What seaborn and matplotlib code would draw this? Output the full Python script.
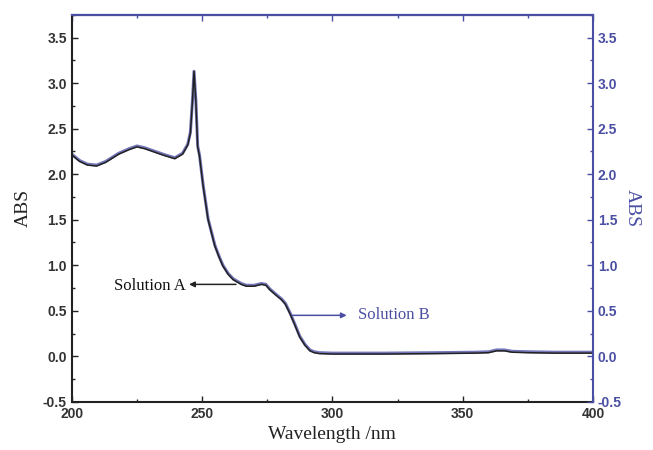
import matplotlib
matplotlib.use("Agg")
import matplotlib.pyplot as plt
import seaborn as sns
import pandas as pd
from matplotlib.ticker import MultipleLocator

# ---- data ----
wavelength = [200, 203, 206, 209.5, 213, 218, 222, 225, 228, 230, 235, 239.5, 242.5,
              244.5, 245.5, 246.3, 246.9, 247.6, 248.3, 249, 250.4, 252.3, 254.9, 256.5,
              258, 260, 262, 265, 267, 270, 272.8, 274.5, 276, 278, 280.5, 282, 283.7,
              285.5, 287.5, 289.5, 291.4, 293, 295, 300, 320, 340, 355, 360, 363, 366,
              369, 375, 385, 400]
abs_a = [2.21, 2.14, 2.10, 2.09, 2.13, 2.22, 2.27, 2.30, 2.28, 2.26, 2.21, 2.17, 2.22,
         2.32, 2.45, 2.80, 3.13, 2.80, 2.30, 2.20, 1.87, 1.50, 1.21, 1.09,
         0.99, 0.90, 0.84, 0.79, 0.77, 0.77, 0.79, 0.78, 0.73, 0.68, 0.62, 0.57, 0.47,
         0.35, 0.21, 0.12, 0.06, 0.04, 0.03, 0.025, 0.025, 0.03, 0.035, 0.04, 0.06, 0.06,
         0.045, 0.04, 0.035, 0.035]
abs_b = [2.22, 2.15, 2.11, 2.10, 2.14, 2.23, 2.28, 2.31, 2.29, 2.27, 2.22, 2.18, 2.23,
         2.33, 2.46, 2.81, 3.13, 2.81, 2.31, 2.21, 1.88, 1.51, 1.22, 1.10,
         1.00, 0.91, 0.85, 0.80, 0.78, 0.78, 0.80, 0.79, 0.74, 0.69, 0.63, 0.58, 0.48,
         0.36, 0.22, 0.13, 0.07, 0.05, 0.04, 0.035, 0.035, 0.04, 0.045, 0.05, 0.07, 0.07,
         0.055, 0.05, 0.045, 0.045]
series_names = ["Solution A", "Solution B"]
x_ticks = [200, 250, 300, 350, 400]
y_ticks = [-0.5, 0.0, 0.5, 1.0, 1.5, 2.0, 2.5, 3.0, 3.5]

BLUE = "#4b4fa3"

sns.set_style("ticks")
plt.rcParams["font.family"] = ["Liberation Sans", "DejaVu Sans"]
plt.rcParams["axes.unicode_minus"] = False

df = pd.concat([
    pd.DataFrame({"Wavelength": wavelength, "ABS": abs_b, "Series": series_names[1]}),
    pd.DataFrame({"Wavelength": wavelength, "ABS": abs_a, "Series": series_names[0]}),
])

fig = plt.figure(figsize=(6.53, 4.5), dpi=100)
ax = fig.add_axes([0.110, 0.107, 0.798, 0.860])

sns.lineplot(data=df, x="Wavelength", y="ABS", hue="Series",
             palette={series_names[0]: "#222222", series_names[1]: "#7476b8"},
             ax=ax, legend=False, sort=False, estimator=None)
for ln, lw in zip(ax.get_lines(), [2.2, 1.1]):
    ln.set_linewidth(lw)
    ln.set_solid_joinstyle("round")

ax.set_xlim(200, 400)
ax.set_ylim(-0.5, 3.75)
ax.set_xticks(x_ticks)
ax.set_yticks(y_ticks)
ax.xaxis.set_minor_locator(MultipleLocator(25))
ax.yaxis.set_minor_locator(MultipleLocator(0.25))
ax.tick_params(axis="both", which="major", direction="in", length=4, width=1,
               labelsize=10, colors="#222222")
ax.tick_params(axis="both", which="minor", direction="in", length=2.5, width=1)
for lab in ax.get_xticklabels() + ax.get_yticklabels():
    lab.set_fontweight("bold")
    lab.set_color("#333333")

ax.set_xlabel("Wavelength /nm", family=["Liberation Serif"], fontsize=14, color="#222222")
ax.set_ylabel("ABS", family=["Liberation Serif"], fontsize=14, color="#222222", labelpad=8)

for side in ["left", "bottom"]:
    ax.spines[side].set_color("#222222")
    ax.spines[side].set_linewidth(1.5)
ax.spines["top"].set_color(BLUE)
ax.spines["top"].set_linewidth(1.5)
ax.spines["right"].set_visible(False)

# right axis
ax2 = ax.twinx()
ax2.set_ylim(-0.5, 3.75)
ax2.set_yticks(y_ticks)
ax2.yaxis.set_minor_locator(MultipleLocator(0.25))
ax2.tick_params(axis="y", which="major", direction="in", length=4, width=1,
                labelsize=10, colors=BLUE)
ax2.tick_params(axis="y", which="minor", direction="in", length=2.5, width=1, colors=BLUE)
for lab in ax2.get_yticklabels():
    lab.set_fontweight("bold")
ax2.spines["right"].set_color(BLUE)
ax2.spines["right"].set_linewidth(1.5)
ax2.spines["top"].set_color(BLUE)
ax2.spines["top"].set_linewidth(1.5)
ax2.spines["left"].set_visible(False)
ax2.spines["bottom"].set_visible(False)
ax2.set_ylabel("ABS", family=["Liberation Serif"], fontsize=14, color=BLUE,
               rotation=270, labelpad=14)

# top ticks
top = ax.secondary_xaxis("top")
top.set_xticks(x_ticks)
top.xaxis.set_minor_locator(MultipleLocator(25))
top.tick_params(axis="x", which="major", direction="in", length=4, width=1,
                colors=BLUE, labeltop=False)
top.tick_params(axis="x", which="minor", direction="in", length=2.5, width=1, colors=BLUE)
top.spines["top"].set_color(BLUE)
top.spines["top"].set_linewidth(1.5)

# annotations
ax.annotate("", xy=(245, 0.79), xytext=(263, 0.79),
            arrowprops=dict(arrowstyle="-|>", color="#222222", lw=1.1,
                            mutation_scale=8, shrinkA=0, shrinkB=0))
ax.text(243.8, 0.77, series_names[0], family=["Liberation Serif"], fontsize=12,
        color="#111111", ha="right", va="center")
ax.annotate("", xy=(305.5, 0.45), xytext=(284.5, 0.45),
            arrowprops=dict(arrowstyle="-|>", color=BLUE, lw=1.1,
                            mutation_scale=8, shrinkA=0, shrinkB=0))
ax.text(309.8, 0.45, series_names[1], family=["Liberation Serif"], fontsize=12,
        color=BLUE, ha="left", va="center")

fig.savefig("out.png", dpi=100)
